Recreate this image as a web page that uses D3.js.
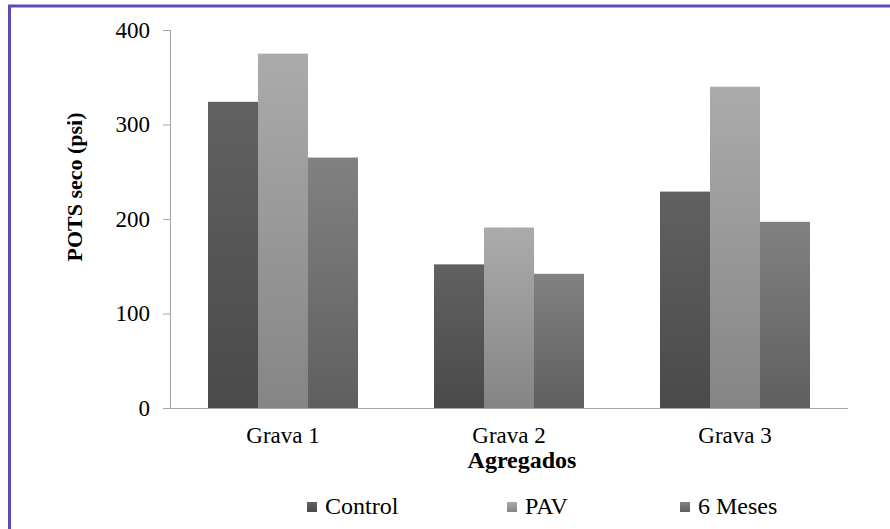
<!DOCTYPE html>
<html>
<head>
<meta charset="utf-8">
<script src="https://cdn.jsdelivr.net/npm/d3@7"></script>
<style>
  html, body { margin: 0; padding: 0; background: #fff; }
  svg { display: block; }
</style>
</head>
<body>
<script>
const categories = ["Grava 1", "Grava 2", "Grava 3"];
const seriesNames = ["Control", "PAV", "6 Meses"];
const controlValues = [324, 152, 229];
const pavValues = [375, 191, 340];
const mesesValues = [265, 142, 197];
const yTicks = [0, 100, 200, 300, 400];
const yTitle = "POTS seco (psi)";
const xTitle = "Agregados";

const seriesValues = [controlValues, pavValues, mesesValues];
const gradStops = [
  ["#616161", "#4a4a4a"],
  ["#ababab", "#858585"],
  ["#818181", "#5f5f5f"]
];
const FONT = "'Liberation Serif', 'Times New Roman', Tinos, serif";

const W = 890, H = 529;
const svg = d3.select("body").append("svg").attr("width", W).attr("height", H)
  .style("font-family", FONT);

// border frame (extends beyond right/bottom edge)
svg.append("rect").attr("x", 9.5).attr("y", 6).attr("width", W + 20).attr("height", H + 20)
  .attr("fill", "#fff").attr("stroke", "#5a4cb2").attr("stroke-width", 3);

const defs = svg.append("defs");
gradStops.forEach((s, i) => {
  const g = defs.append("linearGradient").attr("id", "g" + i)
    .attr("x1", 0).attr("y1", 0).attr("x2", 0).attr("y2", 1);
  g.append("stop").attr("offset", "0%").attr("stop-color", s[0]);
  g.append("stop").attr("offset", "100%").attr("stop-color", s[1]);
});

const pLeft = 170, pRight = 848, pTop = 30, pBottom = 408;
const y = d3.scaleLinear().domain([0, 400]).range([pBottom, pTop]);
const x0 = d3.scaleBand().domain(categories).range([pLeft, pRight]).paddingInner(76 / 226).paddingOuter(38 / 226);
const x1 = d3.scaleBand().domain(seriesNames).range([0, x0.bandwidth()]);

// Y axis
const yAxis = d3.axisLeft(y).tickValues(yTicks).tickSize(7).tickPadding(13).tickFormat(d3.format("d"));
const gy = svg.append("g").attr("transform", `translate(${pLeft},0)`).call(yAxis);
gy.attr("font-family", null).attr("font-size", null);
gy.select(".domain").attr("stroke", "#a6a6a6").attr("d", `M0.5,${pTop}V${pBottom}`);
gy.selectAll(".tick line").attr("stroke", "#a6a6a6");
gy.selectAll(".tick text").style("font-family", FONT).style("font-size", "23px").attr("fill", "#000");

// bars
categories.forEach((c, ci) => {
  const g = svg.append("g").attr("transform", `translate(${x0(c)},0)`);
  seriesNames.forEach((s, si) => {
    const v = seriesValues[si][ci];
    g.append("rect")
      .attr("x", x1(s))
      .attr("y", y(v))
      .attr("width", x1.bandwidth())
      .attr("height", y(0) - y(v))
      .attr("fill", `url(#g${si})`);
  });
});

// X axis
const xAxis = d3.axisBottom(x0).tickSize(0).tickPadding(0);
const gx = svg.append("g").attr("transform", `translate(0,${pBottom})`).call(xAxis);
gx.attr("font-family", null).attr("font-size", null);
gx.select(".domain").attr("stroke", "#a6a6a6").attr("d", `M${pLeft - 7},0.5H${pRight}`);
gx.selectAll(".tick text").style("font-family", FONT).style("font-size", "23px")
  .attr("fill", "#000").attr("dy", null).attr("y", 35);

// axis titles
svg.append("text").attr("x", 522).attr("y", 468).attr("text-anchor", "middle")
  .style("font-family", FONT).style("font-size", "24px").attr("font-weight", "bold").text(xTitle);
svg.append("text").attr("transform", `translate(82,${187}) rotate(-90)`).attr("text-anchor", "middle")
  .style("font-family", FONT).style("font-size", "22px").attr("font-weight", "bold").text(yTitle);

// legend
const legendX = [307, 507, 680];
seriesNames.forEach((s, i) => {
  svg.append("rect").attr("x", legendX[i]).attr("y", 502).attr("width", 10).attr("height", 10)
    .attr("fill", `url(#g${i})`);
  svg.append("text").attr("x", legendX[i] + 18).attr("y", 514)
    .style("font-family", FONT).style("font-size", "24px").text(s);
});
</script>
</body>
</html>
